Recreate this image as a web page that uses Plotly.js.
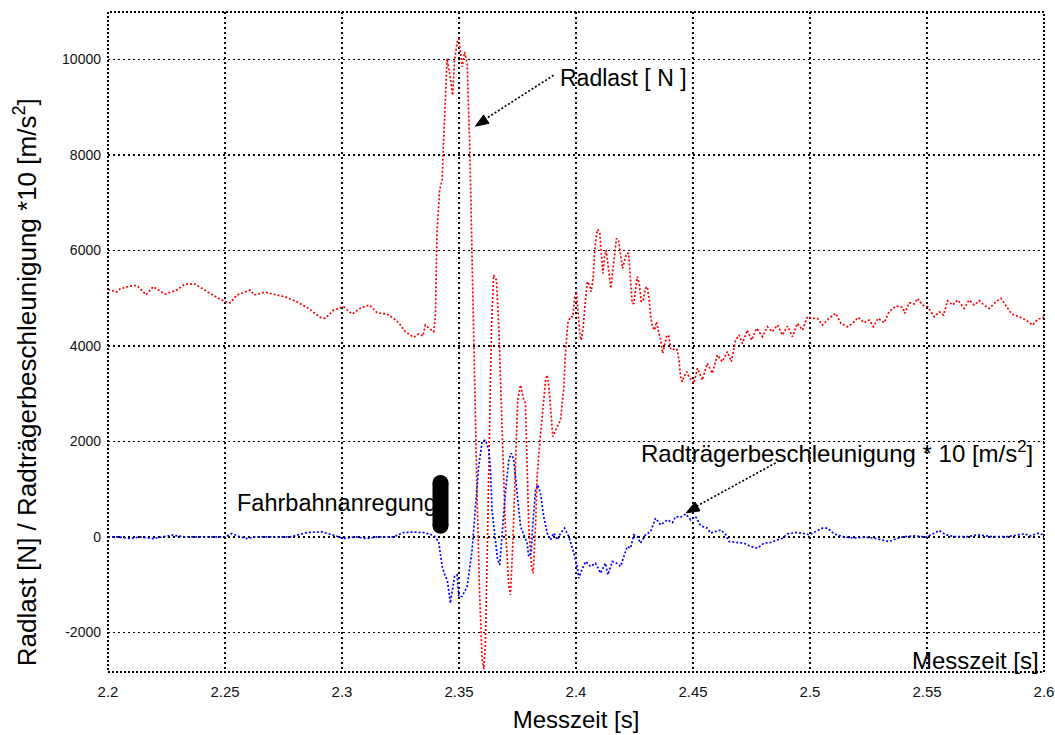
<!DOCTYPE html>
<html>
<head>
<meta charset="utf-8">
<script src="https://cdn.plot.ly/plotly-3.0.1.min.js"></script>
<style>html,body{margin:0;padding:0;background:#fff;}#chart{width:1055px;height:735px;}</style>
</head>
<body>
<div id="chart"></div>
<script>
// Radlast [N]
const radlastT = [2.2001,2.2037,2.2051,2.2094,2.2123,2.2163,2.2193,2.2244,2.2294,2.2329,
2.2372,2.2408,2.2450,2.2501,2.2522,2.2551,2.2607,2.2625,2.2672,2.2722,
2.2757,2.2807,2.2857,2.2907,2.2928,2.2964,2.3007,2.3043,2.3085,2.3118,
2.3150,2.3192,2.3221,2.3242,2.3271,2.3306,2.3327,2.3346,2.3356,2.3378,
2.3392,2.3399,2.3406,2.3417,2.3428,2.3432,2.3442,2.3449,2.3460,2.3473,
2.3481,2.3492,2.3499,2.3506,2.3514,2.3524,2.3535,2.3546,2.3552,2.3558,
2.3563,2.3577,2.3588,2.3599,2.3606,2.3613,2.3620,2.3630,2.3639,2.3648,
2.3660,2.3670,2.3684,2.3698,2.3713,2.3720,2.3730,2.3741,2.3751,2.3763,
2.3777,2.3784,2.3791,2.3798,2.3810,2.3817,2.3827,2.3834,2.3845,2.3855,
2.3870,2.3877,2.3884,2.3891,2.3901,2.3920,2.3934,2.3948,2.3955,2.3965,
2.3976,2.3986,2.3995,2.4002,2.4008,2.4016,2.4022,2.4031,2.4038,2.4048,
2.4059,2.4065,2.4074,2.4079,2.4088,2.4093,2.4102,2.4108,2.4115,2.4122,
2.4129,2.4136,2.4143,2.4149,2.4156,2.4165,2.4173,2.4182,2.4190,2.4199,
2.4208,2.4216,2.4225,2.4233,2.4240,2.4247,2.4255,2.4262,2.4270,2.4279,
2.4287,2.4296,2.4305,2.4313,2.4319,2.4327,2.4336,2.4344,2.4353,2.4362,
2.4370,2.4379,2.4387,2.4396,2.4404,2.4413,2.4423,2.4433,2.4440,2.4447,
2.4454,2.4461,2.4473,2.4483,2.4493,2.4504,2.4519,2.4540,2.4561,2.4583,
2.4604,2.4625,2.4647,2.4664,2.4682,2.4697,2.4711,2.4732,2.4750,2.4772,
2.4797,2.4818,2.4839,2.4861,2.4882,2.4904,2.4925,2.4946,2.4968,2.4989,
2.5010,2.5032,2.5053,2.5081,2.5110,2.5132,2.5160,2.5182,2.5206,2.5231,
2.5253,2.5271,2.5291,2.5317,2.5338,2.5367,2.5396,2.5405,2.5424,2.5445,
2.5460,2.5481,2.5503,2.5531,2.5552,2.5571,2.5588,2.5609,2.5631,2.5659,
2.5680,2.5702,2.5723,2.5744,2.5766,2.5795,2.5816,2.5837,2.5862,2.5894,
2.5923,2.5951,2.5973,2.6000];
const radlastN = [5182,5125,5190,5251,5265,5069,5237,5084,5167,5293,
5293,5182,5056,4922,4901,5063,5167,5063,5125,5063,
5027,4922,4784,4596,4575,4749,4818,4665,4805,4853,
4693,4665,4575,4483,4295,4178,4247,4205,4435,4345,
4295,4609,6360,7259,7468,8027,9421,10014,9700,9247,
9979,10362,10433,10188,9839,10153,9909,8165,6632,5237,
3800,914,-1178,-2573,-2768,-2224,-481,2308,4399,5481,
5377,4399,2308,215,-1040,-1213,-132,1611,2866,3180,
2866,2797,1611,215,-621,-760,215,1262,1960,2517,
3284,3389,3144,2726,2098,2308,2448,3144,3849,4470,
4609,4609,5027,5132,4818,4261,4121,4399,4818,5341,
5272,5132,5446,5935,6353,6437,6353,5935,5516,5864,
6004,5725,5377,5203,5516,5935,6249,6199,5864,5621,
5795,5935,5935,5377,4889,4889,5237,5446,5307,4922,
4958,5203,5237,4958,4609,4399,4330,4504,4295,4121,
3843,4052,4190,4226,3947,3912,3947,3912,3703,3353,
3249,3353,3458,3353,3284,3215,3529,3284,3634,3425,
3807,3668,3877,3668,4121,4226,4052,4330,4121,4366,
4190,4399,4295,4435,4226,4414,4190,4470,4330,4609,
4575,4575,4435,4575,4680,4470,4399,4470,4596,4483,
4540,4399,4575,4483,4713,4833,4805,4680,4901,4875,
4993,4853,4818,4609,4713,4644,4944,4853,4958,4784,
4958,4853,4944,4853,4784,4922,4993,4853,4665,4609,
4540,4435,4554,4596];

// Radträgerbeschleunigung * 10 [m/s²]
const beschlT = [2.2000,2.2043,2.2094,2.2137,2.2193,2.2231,2.2273,2.2329,2.2394,2.2458,
2.2501,2.2529,2.2565,2.2593,2.2629,2.2693,2.2779,2.2850,2.2914,2.2964,
2.3007,2.3057,2.3107,2.3150,2.3221,2.3263,2.3306,2.3349,2.3392,2.3413,
2.3428,2.3442,2.3450,2.3463,2.3473,2.3481,2.3492,2.3499,2.3513,2.3535,
2.3556,2.3570,2.3584,2.3599,2.3613,2.3627,2.3634,2.3641,2.3656,2.3665,
2.3674,2.3684,2.3698,2.3713,2.3723,2.3734,2.3748,2.3763,2.3777,2.3791,
2.3798,2.3808,2.3817,2.3827,2.3837,2.3848,2.3862,2.3877,2.3891,2.3905,
2.3920,2.3934,2.3951,2.3969,2.3991,2.4005,2.4012,2.4022,2.4041,2.4062,
2.4083,2.4105,2.4126,2.4136,2.4155,2.4173,2.4190,2.4205,2.4219,2.4233,
2.4247,2.4262,2.4276,2.4297,2.4319,2.4340,2.4362,2.4390,2.4412,2.4426,
2.4447,2.4469,2.4490,2.4511,2.4533,2.4561,2.4575,2.4597,2.4619,2.4640,
2.4654,2.4690,2.4718,2.4747,2.4775,2.4803,2.4832,2.4861,2.4882,2.4904,
2.4939,2.4968,2.4996,2.5025,2.5053,2.5075,2.5103,2.5139,2.5189,2.5231,
2.5274,2.5338,2.5388,2.5445,2.5495,2.5531,2.5552,2.5581,2.5616,2.5674,
2.5716,2.5773,2.5845,2.5916,2.5944,2.5973,2.6000];
const beschlV = [0,0,-35,0,-35,0,35,0,0,0,
0,70,0,-35,0,0,0,90,105,35,
-35,0,-35,0,0,90,100,90,30,-100,
-621,-830,-900,-1387,-1109,-830,-795,-1249,-1249,-1040,
-272,565,1471,1994,2029,1820,1471,565,-132,-481,
-586,77,914,1611,1751,1611,914,215,42,-132,
-412,-341,356,983,1088,914,425,77,-63,77,
-63,77,182,6,-341,-621,-865,-725,-516,-621,
-551,-760,-551,-795,-516,-551,-621,-412,-203,-237,
42,6,-132,42,111,391,251,356,299,425,
412,481,356,425,230,182,77,111,146,42,
-98,-119,-132,-203,-237,-132,-119,-63,-28,63,
90,77,42,111,182,182,63,6,-28,-6,
-28,-98,-6,21,-6,77,132,42,6,6,
42,6,6,63,21,77,42];

const xTickVals = [2.2,2.25,2.3,2.35,2.4,2.45,2.5,2.55,2.6];
const xTickText = ["2.2","2.25","2.3","2.35","2.4","2.45","2.5","2.55","2.6"];
const yTickVals = [-2000,0,2000,4000,6000,8000,10000];
const yTickText = ["-2000","0","2000","4000","6000","8000","10000"];

const FONT = "Liberation Sans, Arial, sans-serif";
const NARROW = "Liberation Sans Narrow, Arial Narrow, Liberation Sans, sans-serif";

const traces = [
  {x: radlastT, y: radlastN, type: 'scatter', mode: 'lines', name: 'Radlast',
   line: {color: '#ff0000', width: 1.7, dash: '2px,2px'}, hoverinfo: 'skip'},
  {x: beschlT, y: beschlV, type: 'scatter', mode: 'lines', name: 'Radträgerbeschleunigung',
   line: {color: '#0000ff', width: 1.7, dash: '2px,2px'}, hoverinfo: 'skip'}
];

const layout = {
  width: 1055, height: 735,
  margin: {l: 108, r: 11, t: 12, b: 63},
  paper_bgcolor: '#ffffff', plot_bgcolor: '#ffffff',
  showlegend: false,
  font: {family: FONT, color: '#000'},
  xaxis: {
    range: [2.2, 2.6], tickvals: xTickVals, ticktext: xTickText,
    showgrid: true, gridcolor: '#000', gridwidth: 1.5, griddash: '2px,3px',
    zeroline: false, showline: false, ticks: '',
    tickfont: {family: NARROW, size: 15, color: '#111'},
    ticklabelstandoff: 9,
    title: {text: 'Messzeit [s]', font: {family: NARROW, size: 24, color: '#000'}, standoff: 12}
  },
  yaxis: {
    range: [-2830, 10990], tickvals: yTickVals, ticktext: yTickText,
    showgrid: true, gridcolor: '#000', gridwidth: 1.5, griddash: '2px,3px',
    zeroline: false, showline: false, ticks: '',
    tickfont: {family: FONT, size: 14, color: '#111'},
    ticklabelstandoff: 6
  },
  shapes: [
    {type: 'rect', xref: 'paper', yref: 'paper', x0: 0, x1: 1, y0: 0, y1: 1,
     line: {color: '#000', width: 2, dash: '2px,2px'}},
    // Radlast arrow (dotted shaft + head)
    {type: 'line', xref: 'x', yref: 'y', x0: 2.3904, y0: 9665, x1: 2.3610, y1: 8740,
     line: {color: '#000', width: 1.7, dash: '2px,2px'}},
    {type: 'path', xref: 'x', yref: 'y', xsizemode: 'pixel', ysizemode: 'pixel',
     xanchor: 2.3570, yanchor: 8598, path: 'M0,0 L8.2,11.3 L13.6,2.9 Z',
     fillcolor: '#000', line: {color: '#000', width: 1}},
    // Beschleunigung arrow (dotted shaft + head)
    {type: 'line', xref: 'x', yref: 'y', x0: 2.4853, y0: 1548, x1: 2.4515, y1: 640,
     line: {color: '#000', width: 1.7, dash: '2px,2px'}},
    {type: 'path', xref: 'x', yref: 'y', xsizemode: 'pixel', ysizemode: 'pixel',
     xanchor: 2.4471, yanchor: 502, path: 'M0,0 L8.9,10.8 L13.8,2 Z',
     fillcolor: '#000', line: {color: '#000', width: 1}},
    // Fahrbahnanregung bar
    {type: 'line', xref: 'x', yref: 'y', x0: 2.3421, y0: 1130, x1: 2.3421, y1: 230,
     line: {color: '#000', width: 16}},
    {type: 'circle', xref: 'x', yref: 'y', xsizemode: 'pixel', ysizemode: 'pixel',
     xanchor: 2.3421, yanchor: 1130, x0: -8, x1: 8, y0: -8, y1: 8,
     fillcolor: '#000', line: {width: 0}},
    {type: 'circle', xref: 'x', yref: 'y', xsizemode: 'pixel', ysizemode: 'pixel',
     xanchor: 2.3421, yanchor: 230, x0: -8, x1: 8, y0: -8, y1: 8,
     fillcolor: '#000', line: {width: 0}}
  ],
  annotations: [
    {text: 'Radlast [N] / Radträgerbeschleunigung *10 [m/s<sup>2</sup>]',
     xref: 'paper', yref: 'paper', x: -0.0887, y: 0.439, textangle: -90,
     showarrow: false, xanchor: 'center', yanchor: 'middle',
     font: {family: FONT, size: 26, color: '#000'}},
    {text: 'Radlast [ N ]', xref: 'x', yref: 'y', x: 2.3921, y: 9602,
     xanchor: 'left', yanchor: 'middle', showarrow: false,
     font: {family: FONT, size: 23, color: '#000'}},
    {text: 'Radträgerbeschleunigung * 10 [m/s<sup>2</sup>]', xref: 'x', yref: 'y', x: 2.5117, y: 1778,
     xanchor: 'center', yanchor: 'middle', showarrow: false,
     font: {family: FONT, size: 24, color: '#000'}},
    {text: 'Fahrbahnanregung', xref: 'x', yref: 'y', x: 2.2543, y: 711,
     xanchor: 'left', yanchor: 'middle', showarrow: false,
     font: {family: FONT, size: 23.5, color: '#000'}},
    {text: 'Messzeit [s]', xref: 'x', yref: 'y', x: 2.5987, y: -2594,
     xanchor: 'right', yanchor: 'middle', showarrow: false,
     font: {family: NARROW, size: 24, color: '#000'}}
  ]
};

Plotly.newPlot('chart', traces, layout, {staticPlot: true, displayModeBar: false});
</script>
</body>
</html>
